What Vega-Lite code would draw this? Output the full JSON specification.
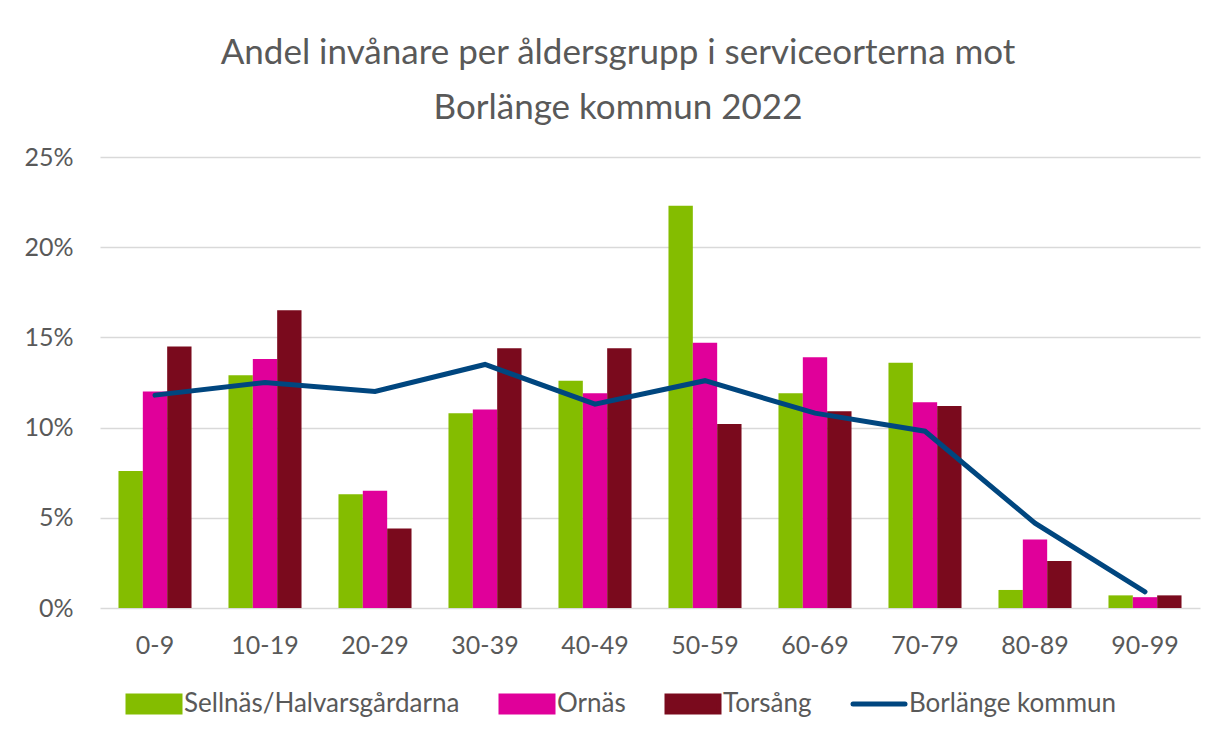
{
  "$schema": "https://vega.github.io/schema/vega-lite/v6.json",
  "autosize": {"type": "none"},
  "width": 1100,
  "height": 451,
  "padding": {"left": 100, "top": 157, "right": 14, "bottom": 127},
  "background": "white",
  "title": {
    "text": ["Andel invånare per åldersgrupp i serviceorterna mot", "Borlänge kommun 2022"],
    "font": "Lato",
    "fontSize": 35,
    "fontWeight": "normal",
    "color": "#595959",
    "anchor": "middle",
    "dx": -32,
    "offset": 19,
    "lineHeight": 55
  },
  "data": {
    "values": [
      {"age": "0-9", "series": "Sellnäs/Halvarsgårdarna", "value": 7.6},
      {"age": "0-9", "series": "Ornäs", "value": 12.0},
      {"age": "0-9", "series": "Torsång", "value": 14.5},
      {"age": "0-9", "series": "Borlänge kommun", "value": 11.8},
      {"age": "10-19", "series": "Sellnäs/Halvarsgårdarna", "value": 12.9},
      {"age": "10-19", "series": "Ornäs", "value": 13.8},
      {"age": "10-19", "series": "Torsång", "value": 16.5},
      {"age": "10-19", "series": "Borlänge kommun", "value": 12.5},
      {"age": "20-29", "series": "Sellnäs/Halvarsgårdarna", "value": 6.3},
      {"age": "20-29", "series": "Ornäs", "value": 6.5},
      {"age": "20-29", "series": "Torsång", "value": 4.4},
      {"age": "20-29", "series": "Borlänge kommun", "value": 12.0},
      {"age": "30-39", "series": "Sellnäs/Halvarsgårdarna", "value": 10.8},
      {"age": "30-39", "series": "Ornäs", "value": 11.0},
      {"age": "30-39", "series": "Torsång", "value": 14.4},
      {"age": "30-39", "series": "Borlänge kommun", "value": 13.5},
      {"age": "40-49", "series": "Sellnäs/Halvarsgårdarna", "value": 12.6},
      {"age": "40-49", "series": "Ornäs", "value": 11.9},
      {"age": "40-49", "series": "Torsång", "value": 14.4},
      {"age": "40-49", "series": "Borlänge kommun", "value": 11.3},
      {"age": "50-59", "series": "Sellnäs/Halvarsgårdarna", "value": 22.3},
      {"age": "50-59", "series": "Ornäs", "value": 14.7},
      {"age": "50-59", "series": "Torsång", "value": 10.2},
      {"age": "50-59", "series": "Borlänge kommun", "value": 12.6},
      {"age": "60-69", "series": "Sellnäs/Halvarsgårdarna", "value": 11.9},
      {"age": "60-69", "series": "Ornäs", "value": 13.9},
      {"age": "60-69", "series": "Torsång", "value": 10.9},
      {"age": "60-69", "series": "Borlänge kommun", "value": 10.8},
      {"age": "70-79", "series": "Sellnäs/Halvarsgårdarna", "value": 13.6},
      {"age": "70-79", "series": "Ornäs", "value": 11.4},
      {"age": "70-79", "series": "Torsång", "value": 11.2},
      {"age": "70-79", "series": "Borlänge kommun", "value": 9.8},
      {"age": "80-89", "series": "Sellnäs/Halvarsgårdarna", "value": 1.0},
      {"age": "80-89", "series": "Ornäs", "value": 3.8},
      {"age": "80-89", "series": "Torsång", "value": 2.6},
      {"age": "80-89", "series": "Borlänge kommun", "value": 4.7},
      {"age": "90-99", "series": "Sellnäs/Halvarsgårdarna", "value": 0.7},
      {"age": "90-99", "series": "Ornäs", "value": 0.6},
      {"age": "90-99", "series": "Torsång", "value": 0.7},
      {"age": "90-99", "series": "Borlänge kommun", "value": 0.9}
    ]
  },
  "encoding": {
    "x": {
      "field": "age",
      "type": "nominal",
      "sort": ["0-9", "10-19", "20-29", "30-39", "40-49", "50-59", "60-69", "70-79", "80-89", "90-99"],
      "scale": {"paddingInner": 0.336, "paddingOuter": 0.168},
      "axis": {
        "title": null,
        "labelAngle": 0,
        "labelFont": "Lato",
        "labelFontSize": 25,
        "labelColor": "#595959",
        "labelBaseline": "alphabetic",
        "labelPadding": 45,
        "ticks": false,
        "tickSize": 0,
        "domain": false,
        "grid": false
      }
    },
    "y": {
      "field": "value",
      "type": "quantitative",
      "scale": {"domain": [0, 25], "nice": false},
      "axis": {
        "title": null,
        "values": [0, 5, 10, 15, 20, 25],
        "labelExpr": "datum.value + '%'",
        "labelFont": "Lato",
        "labelFontSize": 25,
        "labelColor": "#595959",
        "labelPadding": 27,
        "ticks": false,
        "tickSize": 0,
        "domain": false,
        "grid": true,
        "gridColor": "#d9d9d9",
        "gridWidth": 1.5
      }
    },
    "color": {
      "field": "series",
      "type": "nominal",
      "scale": {
        "domain": ["Sellnäs/Halvarsgårdarna", "Ornäs", "Torsång", "Borlänge kommun"],
        "range": ["#84BD00", "#E0009A", "#7A0A1D", "#00467F"]
      },
      "legend": {
        "title": null,
        "orient": "none",
        "direction": "horizontal",
        "columns": 4,
        "legendX": 23,
        "legendY": 534,
        "labelFont": "Lato",
        "labelFontSize": 26,
        "labelColor": "#595959",
        "labelLimit": 0,
        "labelOffset": 35,
        "columnPadding": 31,
        "symbolSize": 256,
        "encode": {
          "symbols": {
            "update": {
              "shape": {"signal": "datum.value === 'Borlänge kommun' ? 'M-1,-1M-1,1M-1,0H5.5' : 'M-1,-1H5.5V1H-1Z'"},
              "fill": {"signal": "datum.value === 'Borlänge kommun' ? 'transparent' : (datum.value === 'Ornäs' ? '#E0009A' : (datum.value === 'Torsång' ? '#7A0A1D' : '#84BD00'))"},
              "stroke": {"signal": "datum.value === 'Borlänge kommun' ? '#00467F' : 'transparent'"},
              "strokeWidth": {"value": 5},
              "strokeCap": {"value": "round"},
              "opacity": {"value": 1},
              "size": {"value": 256}
            }
          }
        }
      }
    }
  },
  "layer": [
    {
      "transform": [{"filter": "datum.series !== 'Borlänge kommun'"}],
      "mark": {"type": "bar"},
      "encoding": {
        "xOffset": {
          "field": "series",
          "type": "nominal",
          "sort": ["Sellnäs/Halvarsgårdarna", "Ornäs", "Torsång"],
          "scale": {"paddingInner": 0, "paddingOuter": 0}
        }
      }
    },
    {
      "transform": [{"filter": "datum.series === 'Borlänge kommun'"}],
      "mark": {"type": "line", "strokeWidth": 5, "strokeCap": "round", "strokeJoin": "miter"},
      "encoding": {}
    }
  ],
  "config": {
    "view": {"stroke": null}
  }
}
